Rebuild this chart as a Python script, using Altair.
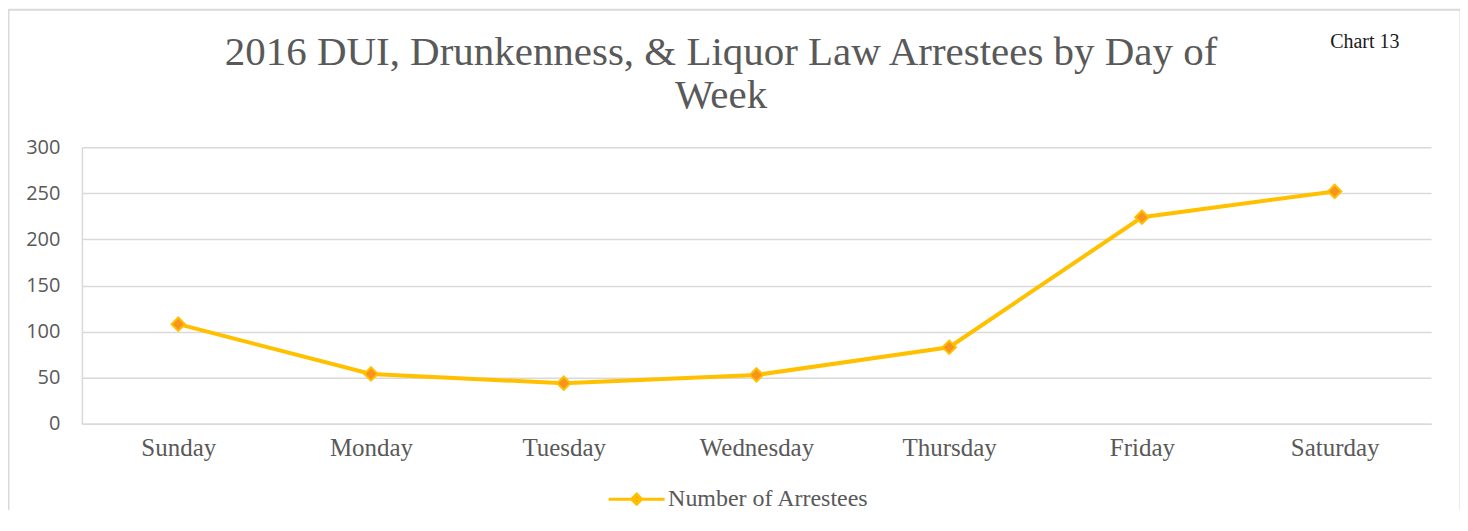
import altair as alt
import pandas as pd

days = ["Sunday", "Monday", "Tuesday", "Wednesday", "Thursday", "Friday", "Saturday"]
arrestees = [108, 54, 44, 53, 83, 224, 252]
series_name = "Number of Arrestees"
y_ticks = [0, 50, 100, 150, 200, 250, 300]
title_lines = ["2016 DUI, Drunkenness, & Liquor Law Arrestees by Day of", "Week"]
corner_label = "Chart 13"

df = pd.DataFrame({"day": days, "arrestees": arrestees, "series": [series_name] * len(days)})

GRID = "#d9d9d9"
TEXT = "#595959"
LINE = "#FFC000"
FILL = "#F7931E"

x_enc = alt.X(
    "day:N",
    sort=days,
    scale=alt.Scale(type="point", padding=0.5),
    axis=alt.Axis(
        title=None, labelAngle=0, ticks=False, domainColor=GRID, domainWidth=1.5,
        labelFont="Liberation Serif", labelFontSize=25, labelColor=TEXT, labelPadding=12,
    ),
)
y_enc = alt.Y(
    "arrestees:Q",
    scale=alt.Scale(domain=[0, 300], nice=False),
    axis=alt.Axis(
        title=None, values=y_ticks, ticks=False, grid=True, gridColor=GRID, gridWidth=1.5,
        domainColor=GRID, domainWidth=1.5, labelFont="Open Sans", labelFontSize=20,
        labelColor=TEXT, labelPadding=22,
    ),
)

base = alt.Chart(df).encode(x=x_enc, y=y_enc)

line = base.mark_line(strokeWidth=4).encode(
    color=alt.Color(
        "series:N",
        scale=alt.Scale(range=[LINE]),
        legend=alt.Legend(
            title=None, orient="none", legendX=540, legendY=337,
            symbolType="M-2,0H2M0,-0.36L0.36,0L0,0.36L-0.36,0Z",
            symbolSize=784, symbolFillColor=FILL, symbolStrokeColor=LINE,
            symbolStrokeWidth=3, labelOffset=16, labelFont="Liberation Serif",
            labelFontSize=24, labelColor=TEXT, labelLimit=500,
        ),
    )
)
points = base.mark_point(
    shape="diamond", filled=True, size=180, fill=FILL, stroke=LINE, strokeWidth=2, opacity=1
)

border_df = pd.DataFrame({"k": [0]})
border = alt.Chart(border_df).mark_rect(fill=None, stroke=GRID, strokeWidth=2).encode(
    x=alt.value(-73.5), x2=alt.value(1380.5), y=alt.value(-137.5), y2=alt.value(400)
)
title = alt.Chart(pd.DataFrame({"t": ["\n".join(title_lines)]})).mark_text(
    font="Liberation Serif", fontSize=41, color=TEXT, align="center",
    baseline="alphabetic", lineBreak="\n", lineHeight=43,
).encode(text="t:N", x=alt.value(640), y=alt.value(-82))
corner = alt.Chart(pd.DataFrame({"t": [corner_label]})).mark_text(
    font="Liberation Serif", fontSize=20, color="#1a1a1a", align="left", baseline="alphabetic"
).encode(text="t:N", x=alt.value(1250), y=alt.value(-99))

chart = alt.layer(border, line, points, title, corner).properties(
    width=1351,
    height=277,
    padding={"left": 74, "top": 139, "right": 29, "bottom": 86},
    autosize="none",
).configure_view(stroke=None)

chart.save("out.html", embed_options={"renderer": "svg", "actions": False})
